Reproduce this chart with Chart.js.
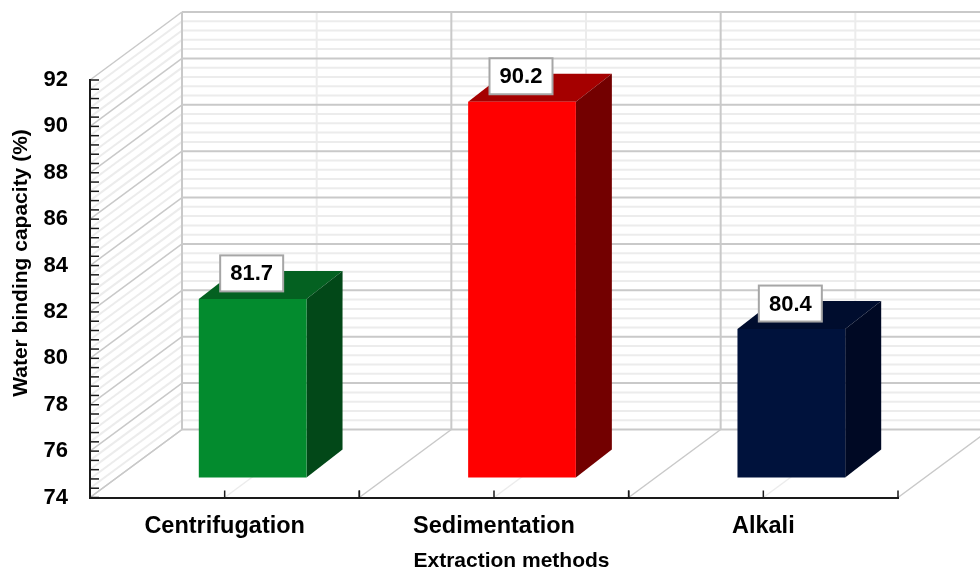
<!DOCTYPE html>
<html>
<head>
<meta charset="utf-8">
<style>html,body{margin:0;padding:0;background:#fff}canvas{display:block}</style>
<script src="https://cdn.jsdelivr.net/npm/chart.js@4/dist/chart.umd.js"></script>
</head>
<body>
<canvas id="c" width="980" height="571"></canvas>
<script>
const categories = ["Centrifugation", "Sedimentation", "Alkali"];
const bindingValues = [81.7, 90.2, 80.4];
const frontColors = ["#038B2E", "#FF0000", "#00123C"];
const topColors = ["#046121", "#A50000", "#000D2E"];
const sideColors = ["#024818", "#730000", "#000924"];
const yMin = 74, yMax = 92, yMinorStep = 0.4, yMajorStep = 2;
const yTitle = "Water binding capacity (%)";
const xTitle = "Extraction methods";

const FONT = '"Liberation Sans", Arial, sans-serif';
const WALL = {dx: 92, dy: -68};
const BAR_SHIFT = {dx: 28, dy: -20};
const BAR_DEPTH = {dx: 36, dy: -28};
const MAJOR = "#c9c9c9", MINOR = "#ececec";

function line(ctx, x1, y1, x2, y2, color, w) {
  ctx.beginPath(); ctx.moveTo(x1, y1); ctx.lineTo(x2, y2);
  ctx.strokeStyle = color; ctx.lineWidth = w; ctx.stroke();
}
function poly(ctx, pts, color) {
  ctx.beginPath();
  pts.forEach((p, i) => i ? ctx.lineTo(p[0], p[1]) : ctx.moveTo(p[0], p[1]));
  ctx.closePath(); ctx.fillStyle = color; ctx.fill();
}
function isMajor(v) {
  const r = (v - yMin) / yMajorStep;
  return Math.abs(r - Math.round(r)) < 1e-6;
}

const box3d = {
  id: "box3d",
  beforeDraw(chart) {
    const {ctx, chartArea: a, scales: {x, y}} = chart;
    ctx.save();
    ctx.fillStyle = "#fff"; ctx.fillRect(0, 0, chart.width, chart.height);
    const order = [...y.ticks].sort((p, q) => isMajor(p.value) - isMajor(q.value));
    const backL = a.left + WALL.dx, backB = a.bottom + WALL.dy, backT = a.top + WALL.dy, backR = a.right + WALL.dx;
    const catW = (a.right - a.left) / categories.length;
    categories.forEach((c, i) => {
      const px = x.getPixelForValue(i);
      line(ctx, px + WALL.dx, backT, px + WALL.dx, backB, MINOR, 2);
      line(ctx, px, a.bottom, px + WALL.dx, backB, MINOR, 1.5);
    });
    order.forEach(t => {
      const py = y.getPixelForValue(t.value);
      const col = isMajor(t.value) ? MAJOR : MINOR;
      line(ctx, a.left, py, backL, py + WALL.dy, col, isMajor(t.value) ? 1.5 : 2);
      line(ctx, backL, py + WALL.dy, backR, py + WALL.dy, col, 2);
    });
    for (let i = 0; i <= categories.length; i++) {
      const px = a.left + i * catW;
      line(ctx, px, a.bottom, px + WALL.dx, backB, MAJOR, 1.5);
      line(ctx, px + WALL.dx, backT, px + WALL.dx, backB, MAJOR, 2);
    }
    ctx.restore();
  },
  beforeDatasetsDraw(chart) {
    const {ctx, chartArea: a, scales: {x, y}} = chart;
    ctx.save();
    y.ticks.forEach(t => {
      const py = y.getPixelForValue(t.value);
      line(ctx, a.left, py, a.left + 9, py, "#1a1a1a", 1.5);
    });
    const catW = (a.right - a.left) / categories.length;
    categories.forEach((c, i) => {
      const px = x.getPixelForValue(i);
      [px - catW / 2, px, px + catW / 2].forEach(tx => line(ctx, tx, a.bottom, tx, a.bottom - 7, "#1a1a1a", 1.5));
    });
    ctx.fillStyle = "#000";
    ctx.font = "bold 21px " + FONT;
    ctx.textAlign = "center"; ctx.textBaseline = "middle";
    ctx.fillText(xTitle, 511.5, 561);
    ctx.translate(21, 263); ctx.rotate(-Math.PI / 2);
    ctx.fillText(yTitle, 0, 0);
    ctx.restore();
  },
  beforeDatasetDraw(chart, args) {
    const {ctx} = chart;
    ctx.save();
    ctx.translate(BAR_SHIFT.dx, BAR_SHIFT.dy);
    args.meta.data.forEach((bar, i) => {
      const p = bar.getProps(["x", "y", "base", "width"], true);
      const l = p.x - p.width / 2, r = p.x + p.width / 2, t = p.y, b = p.base;
      const d = BAR_DEPTH;
      poly(ctx, [[l, t], [r, t], [r + d.dx, t + d.dy], [l + d.dx, t + d.dy]], topColors[i]);
      poly(ctx, [[r, t], [r + d.dx, t + d.dy], [r + d.dx, b + d.dy], [r, b]], sideColors[i]);
    });
  },
  afterDatasetDraw(chart) { chart.ctx.restore(); },
  afterDatasetsDraw(chart, args) {
    const {ctx} = chart;
    const meta = chart.getDatasetMeta(0);
    ctx.save();
    meta.data.forEach((bar, i) => {
      const p = bar.getProps(["x", "y"], true);
      const cx = p.x + BAR_SHIFT.dx - 1, cy = p.y + BAR_SHIFT.dy - 25.5;
      ctx.fillStyle = "#fff"; ctx.fillRect(cx - 31.5, cy - 18, 63, 36);
      ctx.strokeStyle = "#a6a6a6"; ctx.lineWidth = 2; ctx.strokeRect(cx - 31.5, cy - 18, 63, 36);
      ctx.fillStyle = "#000"; ctx.font = "bold 22px " + FONT;
      ctx.textAlign = "center"; ctx.textBaseline = "middle";
      ctx.fillText(bindingValues[i].toFixed(1), cx, cy + 1);
    });
    ctx.restore();
  }
};

new Chart(document.getElementById("c"), {
  type: "bar",
  data: {
    labels: categories,
    datasets: [{
      data: bindingValues,
      base: yMin,
      clip: false,
      backgroundColor: frontColors,
      borderWidth: 0,
      barPercentage: 0.4,
      categoryPercentage: 1
    }]
  },
  options: {
    responsive: false,
    animation: false,
    devicePixelRatio: 1,
    layout: {padding: {top: 80, right: 82, left: 0, bottom: 0}},
    plugins: {legend: {display: false}, title: {display: false}, tooltip: {enabled: false}},
    scales: {
      x: {
        afterFit(s) { s.height = 73.5; },
        grid: {display: false},
        border: {display: true, color: "#1a1a1a", width: 2},
        ticks: {
          color: "#000", padding: 7, maxRotation: 0, autoSkip: false,
          font: {family: FONT, size: 23.5, weight: "bold"}
        }
      },
      y: {
        min: yMin, max: yMax,
        afterFit(s) { s.width = 90; },
        grid: {display: false, tickLength: 0},
        border: {display: true, color: "#1a1a1a", width: 2},
        ticks: {
          stepSize: yMinorStep, autoSkip: false, color: "#000", padding: 22,
          font: {family: FONT, size: 22, weight: "bold"},
          callback(v) { return isMajor(v) ? String(Math.round(v)) : ""; }
        }
      }
    }
  },
  plugins: [box3d]
});
</script>
</body>
</html>
